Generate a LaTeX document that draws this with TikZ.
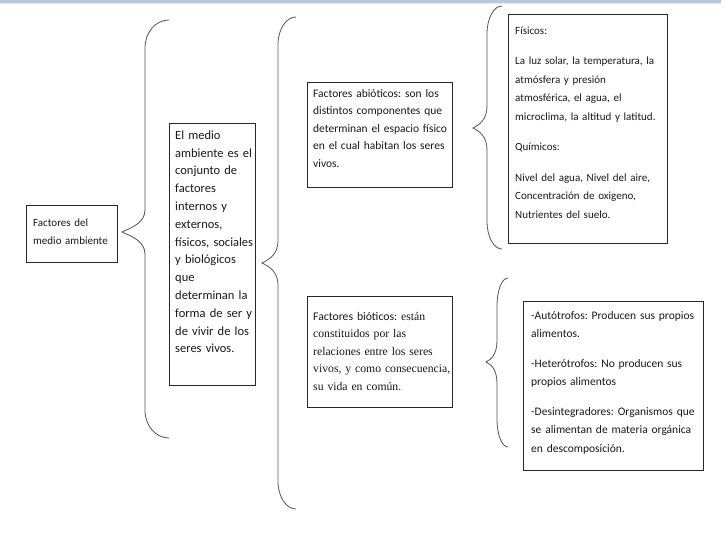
\documentclass[tikz,border=0pt]{standalone}
\usepackage{fontspec}
\setmainfont{Carlito}
\newfontfamily\serifcam{Liberation Serif}
\definecolor{topband}{RGB}{183,201,214}
\definecolor{boxline}{RGB}{40,40,40}
\definecolor{braceline}{RGB}{85,85,85}
\definecolor{ink}{RGB}{25,25,25}
\frenchspacing
\newcommand\wbrace[6]{% #1 end x, #2 vertical x, #3 tip x, #4 top y, #5 tip y, #6 bottom y
  \draw[wbr] (#1,#4) .. controls ({#2+0.45*(#1-#2)},#4) and (#2,{#4+12}) .. (#2,{#4+28})
    -- (#2,{#5-22}) .. controls (#2,{#5-8}) and ({#3+6},{#5-3}) .. (#3,#5)
    .. controls ({#3+6},{#5+3}) and (#2,{#5+8}) .. (#2,{#5+22})
    -- (#2,{#6-28}) .. controls (#2,{#6-12}) and ({#2+0.45*(#1-#2)},#6) .. (#1,#6);}
\begin{document}
\begin{tikzpicture}[x=1pt,y=-1pt,
  boxr/.style={draw=boxline, line width=0.9pt, inner sep=0pt, anchor=north west, fill=white},
  txt/.style={inner sep=0pt, anchor=north west, align=left, text width=200pt, text=ink},
  wbr/.style={draw=braceline, line width=0.8pt}]
\useasboundingbox (0,0) rectangle (728,546);
\fill[white] (0,0) rectangle (728,546);
\fill[topband] (0,0) rectangle (721,2.5);
\fill[topband!35] (0,2.5) rectangle (721,4);

% boxes
\node[boxr, minimum width=91pt, minimum height=57pt] (b1) at (26,205) {};
\node[boxr, minimum width=86pt, minimum height=262pt] (b2) at (169,123) {};
\node[boxr, minimum width=145pt, minimum height=105pt] (b3) at (307,82) {};
\node[boxr, minimum width=145pt, minimum height=111pt] (b4) at (307,296) {};
\node[boxr, minimum width=159pt, minimum height=229pt] (b5) at (508,14) {};
\node[boxr, minimum width=180pt, minimum height=169pt] (b6) at (523,301) {};

% texts
\node[txt, font=\fontsize{11}{18}\selectfont] (t1) at (33,217)
  {\rule{0pt}{9pt}Factores del\\medio ambiente};
\node[txt, font=\fontsize{12.5}{17.8}\selectfont] (t2) at (175,129)
  {\rule{0pt}{10pt}El medio\\ambiente es el\\conjunto de\\factores\\internos y\\externos,\\físicos, sociales\\y biológicos\\que\\determinan la\\forma de ser y\\de vivir de los\\seres vivos.};
\node[txt, font=\fontsize{11.5}{17.5}\selectfont] (t3) at (313,88)
  {\rule{0pt}{9pt}Factores abióticos: son los\\distintos componentes que\\determinan el espacio físico\\en el cual habitan los seres\\vivos.};
\node[txt, font=\serifcam\fontsize{11.7}{17.5}\selectfont] (t4) at (313,311)
  {\rule{0pt}{9pt}{\normalfont Factores bióticos:} están\\constituidos por las\\relaciones entre los seres\\vivos, y como consecuencia,\\su vida en común.};
\node[txt, font=\fontsize{11}{18.5}\selectfont] (t5) at (515,25)
  {\rule{0pt}{9pt}Físicos:\\[12pt]La luz solar, la temperatura, la\\atmósfera y presión\\atmosférica, el agua, el\\microclima, la altitud y latitud.\\[12pt]Químicos:\\[12pt]Nivel del agua, Nivel del aire,\\Concentración de oxigeno,\\Nutrientes del suelo.};
\node[txt, font=\fontsize{11.5}{18.5}\selectfont] (t6) at (531,310)
  {\rule{0pt}{9pt}-Autótrofos: Producen sus propios\\alimentos.\\[11pt]-Heterótrofos: No producen sus\\propios alimentos\\[11pt]-Desintegradores: Organismos que\\se alimentan de materia orgánica\\en descomposición.};

% braces
\wbrace{169}{145}{122}{20}{232}{438}
\wbrace{296}{278}{262}{17}{263}{509}
\wbrace{502}{487}{473}{6}{128}{249}
\wbrace{508}{497}{486}{278}{362}{447}
\end{tikzpicture}
\end{document}
